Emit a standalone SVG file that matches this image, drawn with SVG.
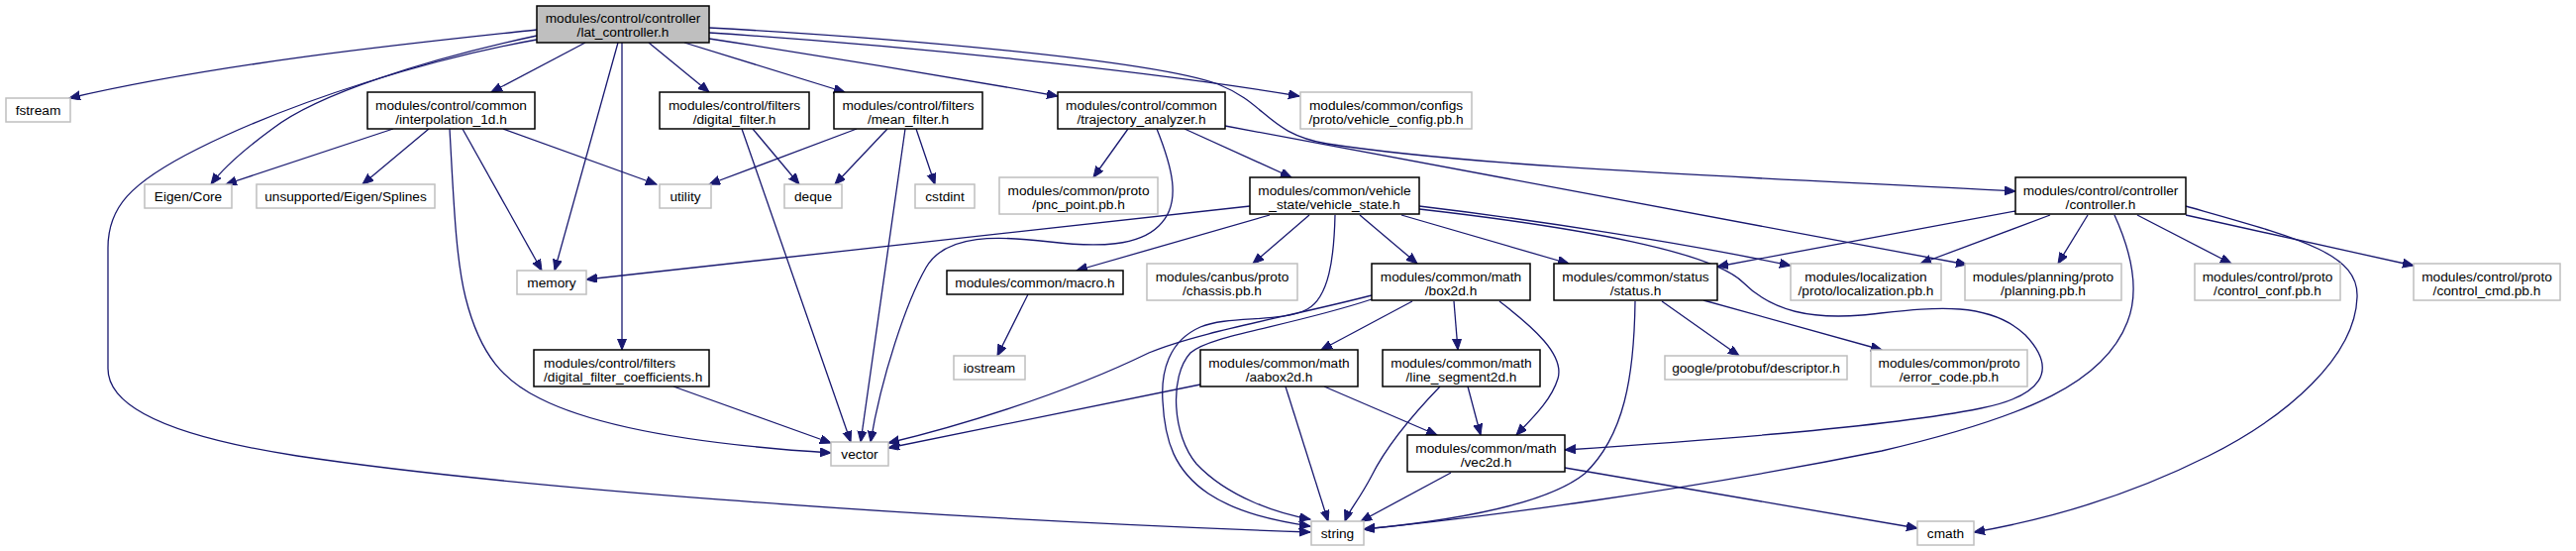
<svg xmlns="http://www.w3.org/2000/svg" width="2601" height="556" viewBox="0 0 2601 556">
<style>
text{font-family:"Liberation Sans",Arial,Helvetica,sans-serif;font-size:13.7px;text-anchor:middle;fill:#000}
.b rect{fill:#fff;stroke:#000;stroke-width:1.5}
.g rect{fill:#fff;stroke:#bfbfbf;stroke-width:1.5}
.r rect{fill:#bfbfbf;stroke:#000;stroke-width:1.5}
.l text{text-anchor:start}
#edges path{fill:none;stroke:#191970;stroke-width:1.3;marker-end:url(#a)}
</style>
<defs>
<marker id="a" markerUnits="userSpaceOnUse" markerWidth="13" markerHeight="11" refX="11" refY="4.5" orient="auto">
<path d="M0,0 L11,4.5 L0,9 z" fill="#191970" stroke="#191970" stroke-width="1"/>
</marker>
</defs>
<rect width="2601" height="556" fill="#fff"/>
<g id="edges">
<path d="M542,30 C430,42 230,62 70,99"/>
<path d="M542,36 C430,60 320,95 275,130 C245,152 225,170 213,186"/>
<path d="M542,40 C440,58 300,100 200,150 C130,185 109,210 109,250 L109,372 C109,410 170,440 300,460 C500,490 900,522 1323,537"/>
<path d="M591,43 L496,93"/>
<path d="M624,43 L560,273"/>
<path d="M628,43 L628,353"/>
<path d="M655,43 L716,93"/>
<path d="M691,43 L853,93"/>
<path d="M716,39 C820,55 960,78 1068,97"/>
<path d="M716,33 C900,45 1150,70 1312,97"/>
<path d="M716,28 C900,38 1160,60 1230,85 C1280,105 1280,135 1340,145 C1500,170 1800,180 2035,193"/>
<path d="M397,130 L228,186"/>
<path d="M433,130 L366,186"/>
<path d="M454,130 C458,200 460,260 470,300 C485,360 510,385 545,402 C620,440 760,452 839,457"/>
<path d="M467,130 L547,273"/>
<path d="M508,130 L663,186"/>
<path d="M760,130 L807,186"/>
<path d="M749,130 L859,446"/>
<path d="M865,130 L716,186"/>
<path d="M896,130 L843,186"/>
<path d="M925,130 L944,186"/>
<path d="M914,130 L869,446"/>
<path d="M1139,130 L1104,179"/>
<path d="M1196,130 L1304,179"/>
<path d="M1168,130 C1182,165 1195,205 1170,228 C1150,248 1110,250 1060,244 C1010,238 955,235 935,270 C915,305 890,380 879,446"/>
<path d="M1237,127 L1986,267"/>
<path d="M1262,208 L592,282"/>
<path d="M1282,217 L1087,273"/>
<path d="M1322,217 L1265,266"/>
<path d="M1348,217 C1347,260 1342,300 1320,312 C1295,326 1240,318 1212,330 C1180,344 1172,375 1174,405 C1176,445 1186,475 1220,498 C1250,518 1290,526 1323,531"/>
<path d="M1373,217 L1431,266"/>
<path d="M1415,217 L1584,266"/>
<path d="M1433,208 C1550,222 1700,245 1808,268"/>
<path d="M1433,211 C1600,230 1730,255 1760,285 C1790,315 1830,322 1880,318 C1940,312 2005,300 2045,338 C2080,375 2060,400 2000,412 C1900,432 1700,446 1580,454"/>
<path d="M2035,213 L1734,269"/>
<path d="M2070,217 L1939,266"/>
<path d="M2108,217 L2078,266"/>
<path d="M2135,217 C2150,250 2162,290 2148,325 C2125,385 2050,420 1900,455 C1700,495 1500,522 1377,534"/>
<path d="M2158,217 L2253,266"/>
<path d="M2207,208 C2320,240 2382,255 2380,300 C2378,360 2310,420 2230,460 C2160,495 2080,522 1993,537"/>
<path d="M2207,217 L2437,268"/>
<path d="M1651,304 C1650,380 1640,440 1600,478 C1560,510 1460,526 1377,534"/>
<path d="M1678,304 L1756,359"/>
<path d="M1720,303 L1900,353"/>
<path d="M1038,297 L1007,359"/>
<path d="M1385,298 C1300,320 1210,335 1160,356 C1070,400 960,432 897,447"/>
<path d="M1385,302 C1300,330 1222,338 1202,356 C1180,380 1184,440 1208,468 C1240,502 1290,518 1323,524"/>
<path d="M1426,304 L1334,353"/>
<path d="M1468,304 L1472,353"/>
<path d="M1514,304 C1548,330 1580,358 1573,382 C1566,405 1545,424 1531,439"/>
<path d="M1212,388 L897,452"/>
<path d="M1298,390 L1341,526"/>
<path d="M1337,390 L1451,439"/>
<path d="M1454,390 C1425,420 1400,450 1385,480 C1372,505 1362,515 1358,526"/>
<path d="M1482,390 L1495,439"/>
<path d="M1465,477 L1374,526"/>
<path d="M1580,472 L1936,533"/>
<path d="M680,390 L839,447"/>
</g>
<g id="n_lat" class="r"><rect x="542" y="6" width="174" height="37"/><text x="629" y="23">modules/control/controller</text><text x="629" y="37">/lat_controller.h</text></g>
<g id="n_fstream" class="g"><rect x="6" y="99" width="65" height="24"/><text x="38.5" y="116">fstream</text></g>
<g id="n_interp" class="b"><rect x="371" y="93" width="169" height="37"/><text x="455.5" y="111">modules/control/common</text><text x="455.5" y="125">/interpolation_1d.h</text></g>
<g id="n_digfilt" class="b"><rect x="666" y="93" width="151" height="37"/><text x="741.5" y="111">modules/control/filters</text><text x="741.5" y="125">/digital_filter.h</text></g>
<g id="n_meanfilt" class="b"><rect x="842" y="93" width="150" height="37"/><text x="917" y="111">modules/control/filters</text><text x="917" y="125">/mean_filter.h</text></g>
<g id="n_traj" class="b"><rect x="1068" y="93" width="169" height="37"/><text x="1152.5" y="111">modules/control/common</text><text x="1152.5" y="125">/trajectory_analyzer.h</text></g>
<g id="n_vconfig" class="g"><rect x="1313" y="93" width="173" height="37"/><text x="1399.5" y="111">modules/common/configs</text><text x="1399.5" y="125">/proto/vehicle_config.pb.h</text></g>
<g id="n_eigen" class="g"><rect x="146" y="186" width="88" height="24"/><text x="190" y="203">Eigen/Core</text></g>
<g id="n_splines" class="g"><rect x="259" y="186" width="180" height="24"/><text x="349" y="203">unsupported/Eigen/Splines</text></g>
<g id="n_utility" class="g"><rect x="666" y="186" width="52" height="24"/><text x="692" y="203">utility</text></g>
<g id="n_deque" class="g"><rect x="792" y="186" width="58" height="24"/><text x="821" y="203">deque</text></g>
<g id="n_cstdint" class="g"><rect x="924" y="186" width="60" height="24"/><text x="954" y="203">cstdint</text></g>
<g id="n_pnc" class="g"><rect x="1009" y="179" width="160" height="37"/><text x="1089" y="197">modules/common/proto</text><text x="1089" y="211">/pnc_point.pb.h</text></g>
<g id="n_vstate" class="b"><rect x="1262" y="179" width="171" height="37"/><text x="1347.5" y="197">modules/common/vehicle</text><text x="1347.5" y="211">_state/vehicle_state.h</text></g>
<g id="n_controller" class="b"><rect x="2035" y="179" width="172" height="37"/><text x="2121" y="197">modules/control/controller</text><text x="2121" y="211">/controller.h</text></g>
<g id="n_memory" class="g"><rect x="522" y="273" width="70" height="24"/><text x="557" y="290">memory</text></g>
<g id="n_macro" class="b"><rect x="956" y="273" width="178" height="24"/><text x="1045" y="290">modules/common/macro.h</text></g>
<g id="n_chassis" class="g"><rect x="1158" y="266" width="152" height="37"/><text x="1234" y="284">modules/canbus/proto</text><text x="1234" y="298">/chassis.pb.h</text></g>
<g id="n_box2d" class="b"><rect x="1385" y="266" width="160" height="37"/><text x="1465" y="284">modules/common/math</text><text x="1465" y="298">/box2d.h</text></g>
<g id="n_status" class="b"><rect x="1569" y="266" width="165" height="37"/><text x="1651.5" y="284">modules/common/status</text><text x="1651.5" y="298">/status.h</text></g>
<g id="n_loc" class="g"><rect x="1808" y="266" width="152" height="37"/><text x="1884" y="284">modules/localization</text><text x="1884" y="298">/proto/localization.pb.h</text></g>
<g id="n_planning" class="g"><rect x="1984" y="266" width="158" height="37"/><text x="2063" y="284">modules/planning/proto</text><text x="2063" y="298">/planning.pb.h</text></g>
<g id="n_cconf" class="g"><rect x="2216" y="266" width="147" height="37"/><text x="2289.5" y="284">modules/control/proto</text><text x="2289.5" y="298">/control_conf.pb.h</text></g>
<g id="n_ccmd" class="g"><rect x="2437" y="266" width="148" height="37"/><text x="2511" y="284">modules/control/proto</text><text x="2511" y="298">/control_cmd.pb.h</text></g>
<g id="n_dfcoeff" class="b l"><rect x="539" y="353" width="177" height="37"/><text x="549" y="371">modules/control/filters</text><text x="549" y="385">/digital_filter_coefficients.h</text></g>
<g id="n_iostream" class="g"><rect x="963" y="359" width="72" height="24"/><text x="999" y="376">iostream</text></g>
<g id="n_aabox" class="b"><rect x="1212" y="353" width="159" height="37"/><text x="1291.5" y="371">modules/common/math</text><text x="1291.5" y="385">/aabox2d.h</text></g>
<g id="n_lineseg" class="b"><rect x="1396" y="353" width="159" height="37"/><text x="1475.5" y="371">modules/common/math</text><text x="1475.5" y="385">/line_segment2d.h</text></g>
<g id="n_descriptor" class="g"><rect x="1681" y="359" width="184" height="24"/><text x="1773" y="376">google/protobuf/descriptor.h</text></g>
<g id="n_errcode" class="g"><rect x="1889" y="353" width="158" height="37"/><text x="1968" y="371">modules/common/proto</text><text x="1968" y="385">/error_code.pb.h</text></g>
<g id="n_vector" class="g"><rect x="839" y="446" width="58" height="24"/><text x="868" y="463">vector</text></g>
<g id="n_vec2d" class="b"><rect x="1421" y="439" width="159" height="37"/><text x="1500.5" y="457">modules/common/math</text><text x="1500.5" y="471">/vec2d.h</text></g>
<g id="n_string" class="g"><rect x="1324" y="526" width="53" height="24"/><text x="1350.5" y="543">string</text></g>
<g id="n_cmath" class="g"><rect x="1936" y="526" width="57" height="24"/><text x="1964.5" y="543">cmath</text></g>
</svg>
